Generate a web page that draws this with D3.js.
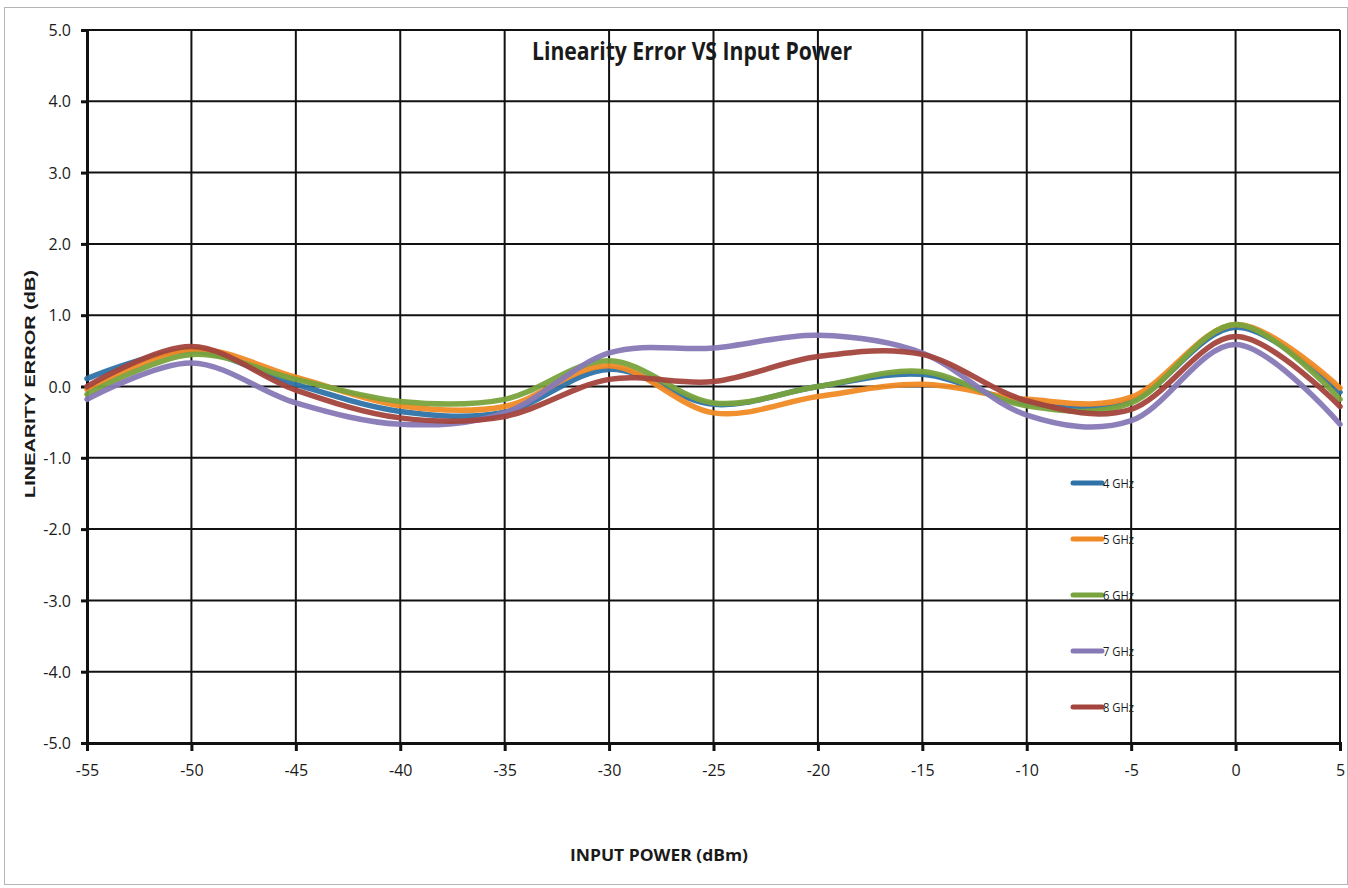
<!DOCTYPE html>
<html>
<head>
<meta charset="utf-8">
<script src="https://cdn.jsdelivr.net/npm/d3@7"></script>
<style>
body { margin: 0; background: #fff; }
svg text { fill: #1a1a1a; }
.narrow { font-family: "Open Sans", sans-serif; }
</style>
</head>
<body>
<svg id="chart" width="1348" height="888"></svg>
<script>
var xTicks = [-55, -50, -45, -40, -35, -30, -25, -20, -15, -10, -5, 0, 5];
var yTicks = [-5, -4, -3, -2, -1, 0, 1, 2, 3, 4, 5];

var power = [-55, -50, -45, -40, -35, -30, -25, -20, -15, -10, -5, 0, 5];
var err4 = [0.11, 0.50, 0.03, -0.35, -0.36, 0.24, -0.25, 0.00, 0.17, -0.24, -0.20, 0.83, -0.08];
var err5 = [-0.04, 0.52, 0.13, -0.27, -0.28, 0.29, -0.37, -0.14, 0.03, -0.18, -0.15, 0.87, -0.02];
var err6 = [-0.11, 0.45, 0.10, -0.21, -0.18, 0.36, -0.23, 0.00, 0.21, -0.27, -0.23, 0.87, -0.18];
var err7 = [-0.18, 0.33, -0.23, -0.53, -0.37, 0.47, 0.54, 0.72, 0.47, -0.40, -0.48, 0.59, -0.53];
var err8 = [0.00, 0.56, -0.05, -0.44, -0.42, 0.10, 0.07, 0.42, 0.45, -0.20, -0.32, 0.70, -0.28];

var seriesNames = ['4 GHz', '5 GHz', '6 GHz', '7 GHz', '8 GHz'];
var seriesColors = ['#2e72a8', '#f08a24', '#79a33c', '#8779b6', '#a3443d'];
var seriesValues = [err4, err5, err6, err7, err8];

var svg = d3.select('#chart');
var plotLeft = 87, plotRight = 1340, plotTop = 30, plotBottom = 743;

// outer frame
svg.append('rect')
	.attr('x', 4.5).attr('y', 7.5)
	.attr('width', 1343).attr('height', 877)
	.attr('fill', 'none').attr('stroke', '#b5b5b5').attr('stroke-width', 1);

var x = d3.scaleLinear().domain([-55, 5]).range([plotLeft, plotRight]);
var y = d3.scaleLinear().domain([-5, 5]).range([plotBottom, plotTop]);

function hyphen(fmt) {
	var f = d3.format(fmt);
	return function(d) { return f(d).replace('\u2212', '-'); };
}

// grid
var grid = svg.append('g');
grid.selectAll('.vline').data(xTicks).enter().append('line')
	.attr('x1', function(d) { return x(d); }).attr('x2', function(d) { return x(d); })
	.attr('y1', plotTop).attr('y2', plotBottom)
	.attr('stroke', '#111').attr('stroke-width', 2);
grid.selectAll('.hline').data(yTicks).enter().append('line')
	.attr('x1', plotLeft).attr('x2', plotRight)
	.attr('y1', function(d) { return y(d); }).attr('y2', function(d) { return y(d); })
	.attr('stroke', '#111').attr('stroke-width', 2);

// axes
var yAxis = svg.append('g')
	.attr('transform', 'translate(' + plotLeft + ',0)')
	.call(d3.axisLeft(y).tickValues(yTicks).tickSize(6).tickPadding(10).tickFormat(hyphen('.1f')));
var xAxis = svg.append('g')
	.attr('transform', 'translate(0,' + plotBottom + ')')
	.call(d3.axisBottom(x).tickValues(xTicks).tickSize(8).tickPadding(14).tickFormat(hyphen('d')));

[yAxis, xAxis].forEach(function(a) {
	a.select('.domain').attr('stroke', '#111').attr('stroke-width', 3);
	a.selectAll('.tick line').attr('stroke', '#111').attr('stroke-width', 3);
	a.selectAll('.tick text')
		.attr('class', 'narrow')
		.style('font-size', '16px')
		.attr('fill', '#1a1a1a');
});
yAxis.selectAll('.tick text').attr('dy', '0.35em');

// curves
var line = d3.line()
	.x(function(d, i) { return x(power[i]); })
	.y(function(d) { return y(d); })
	.curve(d3.curveCardinal.tension(0));

svg.append('g').selectAll('path').data(seriesValues).enter().append('path')
	.attr('d', line)
	.attr('fill', 'none')
	.attr('stroke', function(d, i) { return seriesColors[i]; })
	.attr('stroke-width', 5.5)
	.attr('stroke-linecap', 'round')
	.attr('opacity', 0.95);

// legend
var legend = svg.append('g').selectAll('g').data(seriesNames).enter().append('g')
	.attr('transform', function(d, i) { return 'translate(1073,' + (483 + i * 56) + ')'; });
legend.append('line')
	.attr('x1', 0).attr('x2', 29).attr('y1', 0).attr('y2', 0)
	.attr('stroke', function(d, i) { return seriesColors[i]; })
	.attr('stroke-width', 5).attr('stroke-linecap', 'round');
legend.append('text')
	.attr('class', 'narrow')
	.attr('x', 30).attr('dy', '0.35em')
	.attr('textLength', 31).attr('lengthAdjust', 'spacingAndGlyphs')
	.style('font-size', '13px')
	.text(function(d) { return d; });

// titles
svg.append('text')
	.attr('class', 'narrow')
	.attr('x', 692).attr('y', 60)
	.attr('text-anchor', 'middle')
	.attr('textLength', 320).attr('lengthAdjust', 'spacingAndGlyphs')
	.style('font-size', '25px').style('font-weight', 'bold')
	.text('Linearity Error VS Input Power');

svg.append('text')
	.attr('transform', 'translate(35,384) rotate(-90)')
	.attr('text-anchor', 'middle')
	.attr('textLength', 228).attr('lengthAdjust', 'spacingAndGlyphs')
	.style('font-family', '"Liberation Sans", Arial, sans-serif')
	.style('font-size', '14.5px').style('font-weight', 'bold')
	.text('LINEARITY ERROR (dB)');

svg.append('text')
	.attr('class', 'narrow')
	.attr('x', 659).attr('y', 861)
	.attr('text-anchor', 'middle')
	.attr('textLength', 178).attr('lengthAdjust', 'spacingAndGlyphs')
	.style('font-size', '16px').style('font-weight', 'bold')
	.text('INPUT POWER (dBm)');
</script>
</body>
</html>
